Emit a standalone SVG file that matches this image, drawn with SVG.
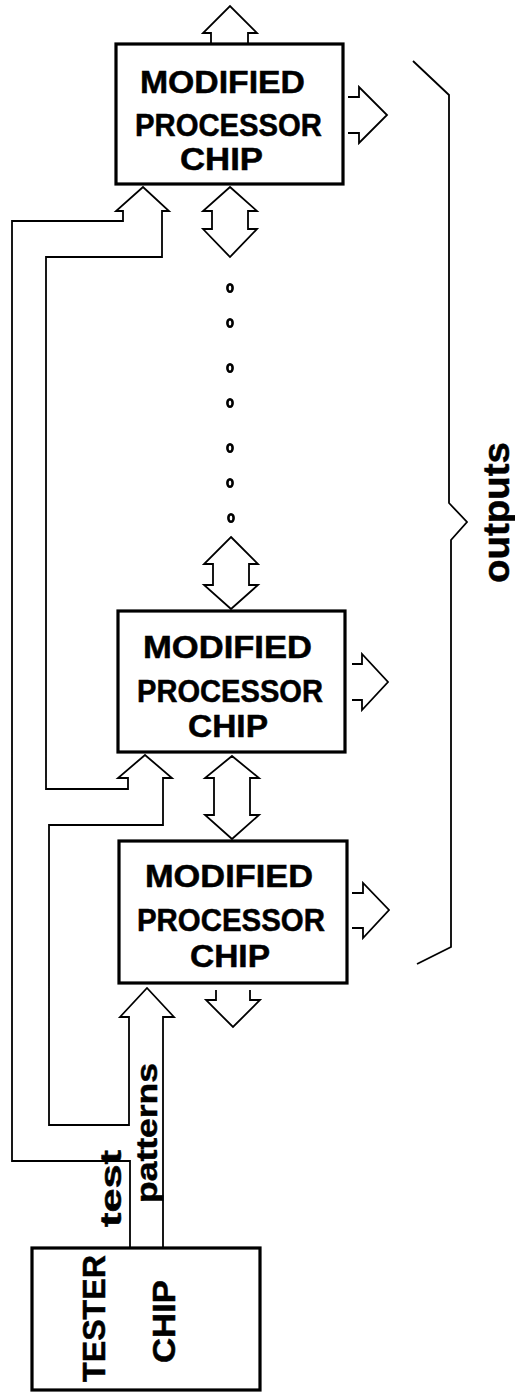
<svg xmlns="http://www.w3.org/2000/svg" width="515" height="1396" viewBox="0 0 515 1396">
<style>
.box{fill:#fff;stroke:#000;stroke-width:3.2}
.ln{fill:none;stroke:#000;stroke-width:1.8;stroke-linejoin:miter}
.t{font-family:"Liberation Sans",Arial,sans-serif;font-weight:bold;font-size:31px;fill:#000;stroke:#000;stroke-width:0.5}
.r{font-family:"Liberation Sans",Arial,sans-serif;font-weight:bold;fill:#000;stroke:#000;stroke-width:0.5}
.dot{fill:none;stroke:#000;stroke-width:2.6}
</style>
<rect x="0" y="0" width="515" height="1396" fill="#fff"/>
<g id="connectors">
<path class="ln" d="M211,43 V33 H203 L230,6 L257,33 H248 V43"/>
<path class="ln" d="M348,97 H359 V87 L387,115 L359,143 V133 H348"/>
<path class="ln" d="M352,664 H362 V654 L388,682 L362,710 V700 H352"/>
<path class="ln" d="M352,893 H363 V883 L389,910 L363,938 V928 H352"/>
<path class="ln" d="M230,187 L257,211 H248 V229 H257 L230,257 L203,229 H212 V211 H203 Z"/>
<path class="ln" d="M231,537 L258,564 H249 V585 H258 L231,609 L204,585 H213 V564 H204 Z"/>
<path class="ln" d="M232,756 L259,778 H250 V815 H259 L232,839 L205,815 H214 V778 H205 Z"/>
<path class="ln" d="M216,990 V1000 H206 L233,1027 L260,1000 H250 V990"/>
<path class="ln" d="M130,1248 V1161 H12 V221 H123 V211 H116 L143,187 L169,211 H162 V257 H46 V789 H128 V778 H118 L145,755 L172,778 H163 V825 H49 V1125 H129 V1017 H120 L147,988 L174,1017 H163 V1248"/>
<path class="ln" d="M413,61 L449,95 V503 L467,522 L451,540 V947 L417,964"/>
<ellipse class="dot" cx="230" cy="288" rx="2.6" ry="3.8"/>
<ellipse class="dot" cx="230" cy="323" rx="2.6" ry="3.8"/>
<ellipse class="dot" cx="230" cy="368" rx="2.6" ry="3.8"/>
<ellipse class="dot" cx="230" cy="403" rx="2.6" ry="3.8"/>
<ellipse class="dot" cx="230" cy="448" rx="2.6" ry="3.8"/>
<ellipse class="dot" cx="230" cy="483" rx="2.6" ry="3.8"/>
<ellipse class="dot" cx="231" cy="518" rx="2.6" ry="3.8"/>
<text class="r" font-size="36" x="509" y="583" textLength="141" lengthAdjust="spacingAndGlyphs" transform="rotate(-90 509 583)">outputs</text>
<text class="r" font-size="30" x="157" y="1203" textLength="140" lengthAdjust="spacingAndGlyphs" transform="rotate(-90 157 1203)">patterns</text>
<text class="r" font-size="30" x="121" y="1227" textLength="77" lengthAdjust="spacingAndGlyphs" transform="rotate(-90 121 1227)">test</text>
</g>
<g id="chip1">
<rect class="box" x="116" y="44" width="227" height="140"/>
<text class="t" x="140" y="93" textLength="165" lengthAdjust="spacingAndGlyphs">MODIFIED</text>
<text class="t" x="135" y="136" textLength="187" lengthAdjust="spacingAndGlyphs">PROCESSOR</text>
<text class="t" x="180" y="170" textLength="83" lengthAdjust="spacingAndGlyphs">CHIP</text>
</g>
<g id="chip2">
<rect class="box" x="118" y="611" width="227" height="141"/>
<text class="t" x="143" y="658" textLength="169" lengthAdjust="spacingAndGlyphs">MODIFIED</text>
<text class="t" x="137" y="702" textLength="186" lengthAdjust="spacingAndGlyphs">PROCESSOR</text>
<text class="t" x="188" y="737" textLength="80" lengthAdjust="spacingAndGlyphs">CHIP</text>
</g>
<g id="chip3">
<rect class="box" x="119" y="841" width="228" height="142"/>
<text class="t" x="145" y="887" textLength="168" lengthAdjust="spacingAndGlyphs">MODIFIED</text>
<text class="t" x="137" y="931" textLength="188" lengthAdjust="spacingAndGlyphs">PROCESSOR</text>
<text class="t" x="190" y="967" textLength="80" lengthAdjust="spacingAndGlyphs">CHIP</text>
</g>
<g id="tester">
<rect class="box" x="32" y="1248" width="228" height="142"/>
<text class="r" font-size="32" x="105" y="1382" textLength="127" lengthAdjust="spacingAndGlyphs" transform="rotate(-90 105 1382)">TESTER</text>
<text class="r" font-size="32" x="175" y="1363" textLength="83" lengthAdjust="spacingAndGlyphs" transform="rotate(-90 175 1363)">CHIP</text>
</g>
</svg>
